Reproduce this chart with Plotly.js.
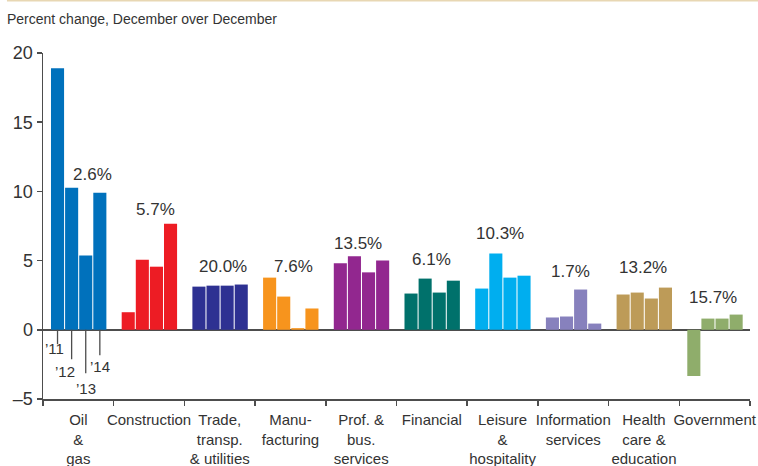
<!DOCTYPE html>
<html>
<head>
<meta charset="utf-8">
<script src="https://cdn.plot.ly/plotly-3.0.1.min.js"></script>
<style>
html,body{margin:0;padding:0;background:#fff;}
#chart{width:758px;height:466px;}
</style>
</head>
<body>
<div id="chart"></div>
<script>
// ---- data ----
const categories = ["Oil<br>&<br>gas", "Construction", "Trade,<br>transp.<br>& utilities", "Manu-<br>facturing",
  "Prof. &<br>bus.<br>services", "Financial", "Leisure<br>&<br>hospitality", "Information<br>services",
  "Health<br>care &<br>education", "Government"];
const years = ["’11", "’12", "’13", "’14"];
const v2011 = [18.9, 1.27, 3.12, 3.77, 4.80, 2.62, 2.98, 0.89, 2.55, -3.34];
const v2012 = [10.26, 5.07, 3.19, 2.40, 5.31, 3.70, 5.52, 0.96, 2.69, 0.81];
const v2013 = [5.36, 4.56, 3.19, 0.12, 4.15, 2.69, 3.77, 2.91, 2.26, 0.81];
const v2014 = [9.90, 7.66, 3.27, 1.54, 5.00, 3.55, 3.91, 0.45, 3.05, 1.10];
const shares = ["2.6%", "5.7%", "20.0%", "7.6%", "13.5%", "6.1%", "10.3%", "1.7%", "13.2%", "15.7%"];
const yTicks = [-5, 0, 5, 10, 15, 20];

// ---- styling / placement ----
const colors = ["#0071bc", "#ed1c24", "#2e3192", "#f7941d", "#92278f", "#00716b", "#00aeef", "#8781bd", "#bd9b58", "#8fad6b"];
const shareLabelY = [11.25, 8.72, 4.56, 4.56, 6.2, 5.05, 6.96, 4.22, 4.47, 2.35];
const shareShiftX = [14.3, 6.9, 2.9, 2.8, -2.8, -0.2, -2.5, -2.5, -1.0, -2.0];
const barStart = -0.387, barPitch = 0.1995, barWidth = 0.185;
const yearLineLen = [16, 31, 45, 27];
const yearTextShift = [[-3.5, -18.2], [-6.6, -41.5], [0, -59], [0, -36.5]];

const FONT = "Liberation Sans, Arial, Helvetica, sans-serif";
const TXT = "#333333";
const AX = "#4d4d4d";

const series = [v2011, v2012, v2013, v2014];
const traces = series.map((vals, k) => ({
  type: "bar",
  name: years[k],
  x: categories,
  y: vals,
  offset: barStart + k * barPitch,
  width: barWidth,
  marker: {color: colors, line: {width: 0}},
  hoverinfo: "x+y",
  showlegend: false
}));

const annotations = [];
shares.forEach((s, i) => {
  annotations.push({
    x: i, y: shareLabelY[i], xref: "x", yref: "y", text: s, showarrow: false,
    xshift: shareShiftX[i], xanchor: "center", yanchor: "middle",
    font: {family: FONT, size: 17, color: TXT}
  });
});
years.forEach((yr, k) => {
  const cx = barStart + k * barPitch + barWidth / 2;
  annotations.push({
    x: cx, y: 0, xref: "x", yref: "y", text: "", showarrow: true,
    ax: 0, ay: yearLineLen[k], arrowhead: 0, arrowwidth: 1.3, arrowcolor: AX, standoff: 0, startstandoff: 0
  });
  annotations.push({
    x: cx, y: 0, xref: "x", yref: "y", text: yr, showarrow: false,
    xshift: yearTextShift[k][0], yshift: yearTextShift[k][1],
    xanchor: "center", yanchor: "middle",
    font: {family: FONT, size: 15, color: TXT}
  });
});

const layout = {
  width: 758, height: 466,
  margin: {l: 43, r: 8, t: 53, b: 67, pad: 0},
  paper_bgcolor: "#ffffff", plot_bgcolor: "#ffffff",
  barmode: "group",
  title: {
    text: "Percent change, December over December",
    x: 0.0092, xref: "container", xanchor: "left",
    y: 0.958, yref: "container", yanchor: "middle",
    font: {family: FONT, size: 14, color: TXT}
  },
  xaxis: {
    type: "category", categoryorder: "array", categoryarray: categories,
    range: [-0.5, 9.5],
    showline: true, linecolor: AX, linewidth: 2,
    ticks: "outside", tickson: "boundaries", ticklen: 5, tickwidth: 1.5, tickcolor: AX,
    tickangle: 0, ticklabelstandoff: 6,
    showgrid: false, zeroline: false,
    tickfont: {family: FONT, size: 15, color: TXT},
    fixedrange: true
  },
  xaxis2: {
    type: "category", categoryorder: "array", categoryarray: categories,
    overlaying: "x", matches: "x", anchor: "free", position: 0.2087, side: "bottom",
    range: [-0.5, 9.5],
    showline: false, showticklabels: false, showgrid: false, zeroline: false,
    ticks: "outside", tickson: "boundaries", ticklen: 7, tickwidth: 1.5, tickcolor: AX,
    fixedrange: true
  },
  yaxis: {
    range: [-5, 20], tickvals: yTicks, ticktext: yTicks.map(v => v < 0 ? "–" + Math.abs(v) : String(v)),
    showline: true, linecolor: AX, linewidth: 1.5,
    ticks: "outside", ticklen: 5, tickwidth: 1.5, tickcolor: AX,
    showgrid: false,
    zeroline: true, zerolinecolor: AX, zerolinewidth: 2,
    tickfont: {family: FONT, size: 18, color: TXT},
    fixedrange: true
  },
  shapes: [{
    type: "line", xref: "paper", yref: "paper",
    x0: -0.051, x1: 1.012, y0: 1.1517, y1: 1.1517,
    line: {color: "#e8d7b3", width: 2}
  }],
  annotations: annotations
};

Plotly.newPlot("chart", traces, layout, {displayModeBar: false, staticPlot: true});
</script>
</body>
</html>
